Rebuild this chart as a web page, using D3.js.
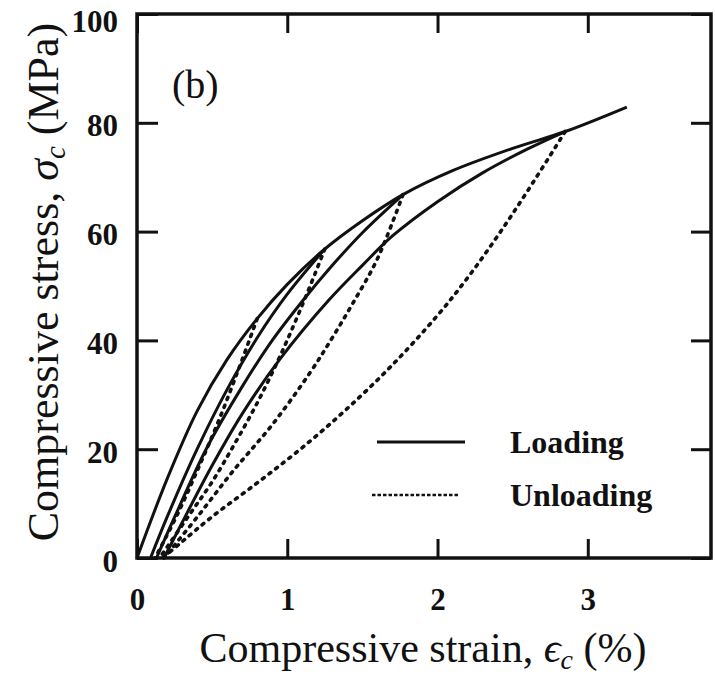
<!DOCTYPE html>
<html>
<head>
<meta charset="utf-8">
<script src="https://cdn.jsdelivr.net/npm/d3@7"></script>
<style>
  body { margin: 0; background: #fff; }
  svg { display: block; }
</style>
</head>
<body>
<svg id="chart" width="715" height="676"></svg>
<script>
// strain (%) / stress (MPa)
const envelope = [[0, 0], [0.2, 14.5], [0.4, 27], [0.6, 36.5], [0.8, 44], [1.0, 50.3], [1.25, 56.8],
  [1.5, 62], [1.77, 66.8], [2.1, 71.2], [2.5, 75.3], [2.85, 78.4], [3.26, 82.9]];
const reload2 = [[0.09, 0], [0.2, 7.5], [0.4, 20], [0.6, 31], [0.8, 40.5], [1.0, 48.5], [1.25, 56.8]];
const reload3 = [[0.13, 0], [0.25, 7.5], [0.46, 20], [0.7, 31.5], [0.9, 40], [1.1, 47.2], [1.3, 53.8],
  [1.5, 59.8], [1.77, 66.8]];
const reload4 = [[0.18, 0], [0.3, 6.5], [0.5, 17], [0.7, 26.5], [0.95, 36.5], [1.28, 47.5], [1.5, 53.8],
  [1.7, 59.2], [2.0, 65.5], [2.3, 70.8], [2.6, 75.2], [2.85, 78.4]];
const unload1 = [[0.8, 44], [0.68, 35], [0.54, 25], [0.4, 16], [0.26, 7.5], [0.12, 0]];
const unload2 = [[1.25, 56.8], [1.1, 46.5], [0.95, 37], [0.8, 28.5], [0.65, 21], [0.5, 14], [0.35, 8], [0.15, 0]];
const unload3 = [[1.77, 66.8], [1.6, 55], [1.44, 47], [1.3, 40.5], [1.15, 34], [0.9, 24.5], [0.64, 16],
  [0.4, 7.5], [0.18, 0]];
const unload4 = [[2.85, 78.4], [2.6, 67.5], [2.4, 59.2], [2.2, 51.5], [2.0, 44.6], [1.7, 35.5], [1.4, 27.5],
  [1.1, 20.3], [0.8, 13.8], [0.5, 7.6], [0.3, 3], [0.17, 0]];

const loadingCurves = [envelope, reload2, reload3, reload4];
const unloadingCurves = [unload1, unload2, unload3, unload4];

const xTicks = [0, 1, 2, 3];
const yTicks = [0, 20, 40, 60, 80, 100];
const legendNames = ["Loading", "Unloading"];

const serif = "'Liberation Serif', 'Times New Roman', 'DejaVu Serif', serif";
const ink = "#111";

const plotLeft = 137, plotRight = 711, plotTop = 14, plotBottom = 558;

const svg = d3.select("#chart");

const x = d3.scaleLinear().domain([0, 3.82]).range([plotLeft, plotRight]);
const y = d3.scaleLinear().domain([0, 100]).range([plotBottom, plotTop]);

// axes: ticks point inward, labels only on bottom and left
const gx = svg.append("g")
  .attr("transform", `translate(0,${plotBottom})`)
  .call(d3.axisBottom(x).tickValues(xTicks).tickSize(-19).tickPadding(30).tickFormat(d3.format("d")));
const gy = svg.append("g")
  .attr("transform", `translate(${plotLeft},0)`)
  .call(d3.axisLeft(y).tickValues(yTicks).tickSize(-21).tickPadding(19).tickFormat(d3.format("d")));
const gxTop = svg.append("g")
  .attr("transform", `translate(0,${plotTop})`)
  .call(d3.axisTop(x).tickValues(xTicks).tickSize(-19).tickFormat(""));
const gyRight = svg.append("g")
  .attr("transform", `translate(${plotRight},0)`)
  .call(d3.axisRight(y).tickValues(yTicks).tickSize(-20).tickFormat(""));

[gx, gy, gxTop, gyRight].forEach(g => {
  g.select(".domain").remove();
  g.selectAll(".tick line").attr("stroke", ink).attr("stroke-width", 3);
  g.selectAll(".tick text")
    .attr("fill", ink)
    .style("font-family", serif)
    .style("font-weight", "bold")
    .style("font-size", "31px");
});
// left labels sit a little below their ticks, the top one more so
gy.selectAll(".tick text").attr("dy", d => d === 100 ? "0.55em" : "0.42em");

// frame
svg.append("rect")
  .attr("x", plotLeft).attr("y", plotTop)
  .attr("width", plotRight - plotLeft).attr("height", plotBottom - plotTop)
  .attr("fill", "none").attr("stroke", ink).attr("stroke-width", 3.5);

const line = d3.line()
  .x(d => x(d[0]))
  .y(d => y(d[1]))
  .curve(d3.curveCatmullRom.alpha(0.5));

const gCurves = svg.append("g");

gCurves.selectAll(".unload")
  .data(unloadingCurves)
  .join("path")
  .attr("class", "unload")
  .attr("d", line)
  .attr("fill", "none")
  .attr("stroke", ink)
  .attr("stroke-width", 3.6)
  .attr("stroke-linecap", "round")
  .attr("stroke-dasharray", "2.2 6.2");

gCurves.selectAll(".load")
  .data(loadingCurves)
  .join("path")
  .attr("class", "load")
  .attr("d", line)
  .attr("fill", "none")
  .attr("stroke", ink)
  .attr("stroke-width", 3)
  .attr("stroke-linejoin", "round");

// panel tag
svg.append("text")
  .attr("x", 172).attr("y", 98)
  .attr("fill", ink)
  .style("font-family", serif)
  .style("font-size", "40px")
  .text("(b)");

// legend
const legend = svg.append("g").selectAll("g")
  .data(legendNames)
  .join("g")
  .attr("transform", (d, i) => `translate(0,${442 + i * 53})`);

legend.append("line")
  .attr("x1", (d, i) => i ? 372 : 377)
  .attr("x2", (d, i) => i ? 460 : 465)
  .attr("stroke", ink)
  .attr("stroke-width", (d, i) => i ? 2.4 : 3)
  .attr("stroke-dasharray", (d, i) => i ? "3.5 2" : null);

legend.append("text")
  .attr("x", 510).attr("y", 11)
  .attr("fill", ink)
  .style("font-family", serif)
  .style("font-weight", "bold")
  .style("font-size", "32px")
  .text(d => d);

// axis titles
const xTitle = svg.append("text")
  .attr("x", 423).attr("y", 662)
  .attr("text-anchor", "middle")
  .attr("fill", ink)
  .style("font-family", serif)
  .style("font-size", "42px");
xTitle.append("tspan").text("Compressive strain, ");
xTitle.append("tspan").style("font-style", "italic").text("\u03f5");
xTitle.append("tspan").attr("dy", 7).style("font-size", "28px").style("font-style", "italic").text("c");
xTitle.append("tspan").attr("dy", -7).text(" (%)");

const yTitle = svg.append("text")
  .attr("transform", "translate(58,282) rotate(-90)")
  .attr("text-anchor", "middle")
  .attr("fill", ink)
  .style("font-family", serif)
  .style("font-size", "44px");
yTitle.append("tspan").text("Compressive stress, ");
yTitle.append("tspan").style("font-style", "italic").text("\u03c3");
yTitle.append("tspan").attr("dy", 7).style("font-size", "29px").style("font-style", "italic").text("c");
yTitle.append("tspan").attr("dy", -7).text(" (MPa)");
</script>
</body>
</html>
